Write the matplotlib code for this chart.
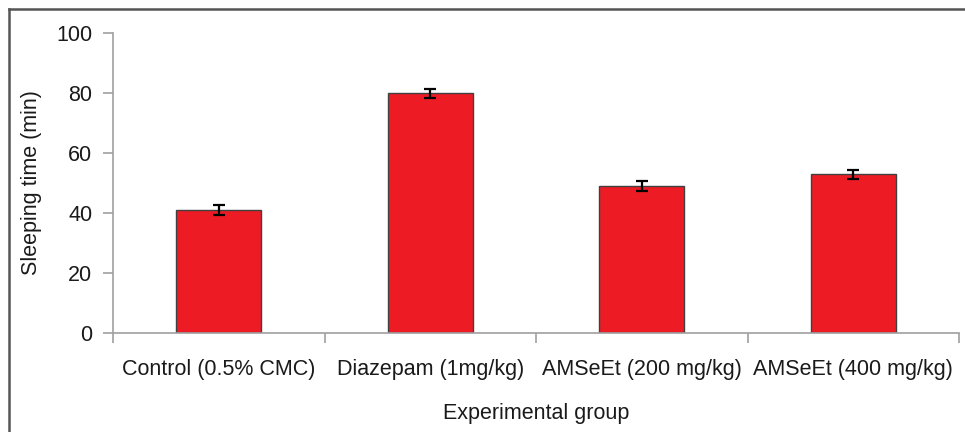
import matplotlib

matplotlib.use("Agg")
import matplotlib.pyplot as plt
from matplotlib.lines import Line2D
import numpy as np

groups = ["Control (0.5% CMC)", "Diazepam (1mg/kg)", "AMSeEt (200 mg/kg)", "AMSeEt (400 mg/kg)"]
sleep_time = [41.0, 80.0, 49.0, 53.0]
sleep_err = [1.6, 1.5, 1.7, 1.5]
y_ticks = [0, 20, 40, 60, 80, 100]

plt.rcParams["font.family"] = ["Liberation Sans", "DejaVu Sans"]

W, H = 965, 432
fs = 15.5
fig = plt.figure(figsize=(W / 100, H / 100), dpi=100)
ax = fig.add_axes([113 / W, (H - 333) / H, (959 - 113) / W, 300 / H])

x = np.arange(len(groups))
ax.bar(x, sleep_time, width=0.40, color="#ED1C24", edgecolor="#404040", linewidth=1.0, zorder=2)
ax.errorbar(x, sleep_time, yerr=sleep_err, fmt="none", ecolor="black",
            elinewidth=1.6, capsize=4, capthick=1.6, zorder=3)

ax.set_xlim(-0.5, len(groups) - 0.5)
ax.set_ylim(0, 100)
ax.set_yticks(y_ticks)
ax.set_xticks(x)
ax.set_xticklabels(groups)
ax.set_xticks(np.arange(len(groups) + 1) - 0.5, minor=True)

for side in ("top", "right"):
    ax.spines[side].set_visible(False)
for side in ("left", "bottom"):
    ax.spines[side].set_color("#a0a0a0")
    ax.spines[side].set_linewidth(1.2)

ax.tick_params(axis="x", which="major", length=0, pad=19, labelsize=fs, colors="#1a1a1a")
ax.tick_params(axis="x", which="minor", length=7, width=1.2, color="#a0a0a0", direction="out")
ax.tick_params(axis="y", length=7, width=1.2, color="#a0a0a0", direction="out",
               pad=8, labelsize=fs, labelcolor="#1a1a1a")

ax.set_ylabel("Sleeping time (min)", fontsize=fs, color="#1a1a1a", labelpad=10)
ax.set_xlabel("Experimental group", fontsize=fs, color="#1a1a1a", labelpad=16)

# outer frame (top and left edges only visible in the original)
fig.add_artist(Line2D([8.5 / W, 1.0], [1 - 8.5 / H, 1 - 8.5 / H], color="#555555", linewidth=1.8))
fig.add_artist(Line2D([8.5 / W, 8.5 / W], [0.0, 1 - 8.5 / H], color="#555555", linewidth=1.8))

fig.savefig("out.png", dpi=100)
plt.close(fig)
